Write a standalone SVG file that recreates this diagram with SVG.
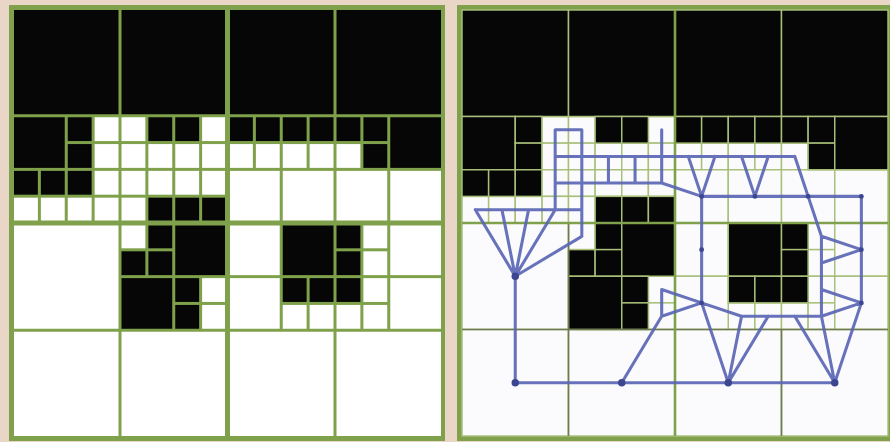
<svg xmlns="http://www.w3.org/2000/svg" width="890" height="442" viewBox="0 0 890 442">
<style>
.bg{fill:#ead6c7}
.frame{fill:#7fa14b}
.b{fill:#060606}
.w{fill:#ffffff}
.R rect{stroke:#a9bf7a;stroke-width:0.055}
.R .w{fill:#fbfbfd}
.q{stroke:#6d7a52;stroke-width:1.6}
.m{stroke:#7fa14b;stroke-width:2.6}
.edge{fill:none;stroke:#5a66b5;stroke-opacity:0.92;stroke-width:0.115;stroke-linecap:round;stroke-linejoin:round}
.dot{fill:#3c4690}
</style>
<rect class="bg" x="0" y="0" width="890" height="442"/>

<!-- Left panel: quadtree -->
<g id="left-panel">
<rect class="frame" x="9" y="5" width="436" height="436"/>
<g transform="translate(12.5,8.5) scale(26.875,26.8125)">
<rect class="b" x="0.056" y="0.056" width="3.888" height="3.888"/>
<rect class="b" x="4.056" y="0.056" width="3.888" height="3.888"/>
<rect class="b" x="8.056" y="0.056" width="3.888" height="3.888"/>
<rect class="b" x="12.056" y="0.056" width="3.888" height="3.888"/>
<rect class="b" x="0.056" y="4.056" width="1.888" height="1.888"/>
<rect class="b" x="2.056" y="4.056" width="0.888" height="0.888"/>
<rect class="b" x="2.056" y="5.056" width="0.888" height="0.888"/>
<rect class="b" x="0.056" y="6.056" width="0.888" height="0.888"/>
<rect class="b" x="1.056" y="6.056" width="0.888" height="0.888"/>
<rect class="b" x="2.056" y="6.056" width="0.888" height="0.888"/>
<rect class="b" x="5.056" y="4.056" width="0.888" height="0.888"/>
<rect class="b" x="6.056" y="4.056" width="0.888" height="0.888"/>
<rect class="b" x="5.056" y="7.056" width="0.888" height="0.888"/>
<rect class="b" x="6.056" y="7.056" width="0.888" height="0.888"/>
<rect class="b" x="7.056" y="7.056" width="0.888" height="0.888"/>
<rect class="b" x="8.056" y="4.056" width="0.888" height="0.888"/>
<rect class="b" x="9.056" y="4.056" width="0.888" height="0.888"/>
<rect class="b" x="10.056" y="4.056" width="0.888" height="0.888"/>
<rect class="b" x="11.056" y="4.056" width="0.888" height="0.888"/>
<rect class="b" x="12.056" y="4.056" width="0.888" height="0.888"/>
<rect class="b" x="13.056" y="4.056" width="0.888" height="0.888"/>
<rect class="b" x="13.056" y="5.056" width="0.888" height="0.888"/>
<rect class="b" x="14.056" y="4.056" width="1.888" height="1.888"/>
<rect class="b" x="5.056" y="8.056" width="0.888" height="0.888"/>
<rect class="b" x="4.056" y="9.056" width="0.888" height="0.888"/>
<rect class="b" x="5.056" y="9.056" width="0.888" height="0.888"/>
<rect class="b" x="6.056" y="8.056" width="1.888" height="1.888"/>
<rect class="b" x="4.056" y="10.056" width="1.888" height="1.888"/>
<rect class="b" x="6.056" y="10.056" width="0.888" height="0.888"/>
<rect class="b" x="6.056" y="11.056" width="0.888" height="0.888"/>
<rect class="b" x="10.056" y="8.056" width="1.888" height="1.888"/>
<rect class="b" x="10.056" y="10.056" width="0.888" height="0.888"/>
<rect class="b" x="11.056" y="10.056" width="0.888" height="0.888"/>
<rect class="b" x="12.056" y="8.056" width="0.888" height="0.888"/>
<rect class="b" x="12.056" y="9.056" width="0.888" height="0.888"/>
<rect class="b" x="12.056" y="10.056" width="0.888" height="0.888"/>

<rect class="w" x="3.056" y="4.056" width="0.888" height="0.888"/>
<rect class="w" x="3.056" y="5.056" width="0.888" height="0.888"/>
<rect class="w" x="3.056" y="6.056" width="0.888" height="0.888"/>
<rect class="w" x="3.056" y="7.056" width="0.888" height="0.888"/>
<rect class="w" x="0.056" y="7.056" width="0.888" height="0.888"/>
<rect class="w" x="1.056" y="7.056" width="0.888" height="0.888"/>
<rect class="w" x="2.056" y="7.056" width="0.888" height="0.888"/>
<rect class="w" x="4.056" y="4.056" width="0.888" height="0.888"/>
<rect class="w" x="4.056" y="5.056" width="0.888" height="0.888"/>
<rect class="w" x="4.056" y="6.056" width="0.888" height="0.888"/>
<rect class="w" x="4.056" y="7.056" width="0.888" height="0.888"/>
<rect class="w" x="5.056" y="5.056" width="0.888" height="0.888"/>
<rect class="w" x="5.056" y="6.056" width="0.888" height="0.888"/>
<rect class="w" x="6.056" y="5.056" width="0.888" height="0.888"/>
<rect class="w" x="6.056" y="6.056" width="0.888" height="0.888"/>
<rect class="w" x="7.056" y="4.056" width="0.888" height="0.888"/>
<rect class="w" x="7.056" y="5.056" width="0.888" height="0.888"/>
<rect class="w" x="7.056" y="6.056" width="0.888" height="0.888"/>
<rect class="w" x="8.056" y="5.056" width="0.888" height="0.888"/>
<rect class="w" x="9.056" y="5.056" width="0.888" height="0.888"/>
<rect class="w" x="10.056" y="5.056" width="0.888" height="0.888"/>
<rect class="w" x="11.056" y="5.056" width="0.888" height="0.888"/>
<rect class="w" x="12.056" y="5.056" width="0.888" height="0.888"/>
<rect class="w" x="4.056" y="8.056" width="0.888" height="0.888"/>
<rect class="w" x="7.056" y="10.056" width="0.888" height="0.888"/>
<rect class="w" x="7.056" y="11.056" width="0.888" height="0.888"/>
<rect class="w" x="10.056" y="11.056" width="0.888" height="0.888"/>
<rect class="w" x="11.056" y="11.056" width="0.888" height="0.888"/>
<rect class="w" x="13.056" y="8.056" width="0.888" height="0.888"/>
<rect class="w" x="13.056" y="9.056" width="0.888" height="0.888"/>
<rect class="w" x="13.056" y="10.056" width="0.888" height="0.888"/>
<rect class="w" x="12.056" y="11.056" width="0.888" height="0.888"/>
<rect class="w" x="13.056" y="11.056" width="0.888" height="0.888"/>
<rect class="w" x="8.056" y="6.056" width="1.888" height="1.888"/>
<rect class="w" x="10.056" y="6.056" width="1.888" height="1.888"/>
<rect class="w" x="12.056" y="6.056" width="1.888" height="1.888"/>
<rect class="w" x="14.056" y="6.056" width="1.888" height="1.888"/>
<rect class="w" x="8.056" y="8.056" width="1.888" height="1.888"/>
<rect class="w" x="8.056" y="10.056" width="1.888" height="1.888"/>
<rect class="w" x="14.056" y="8.056" width="1.888" height="1.888"/>
<rect class="w" x="14.056" y="10.056" width="1.888" height="1.888"/>
<rect class="w" x="0.056" y="8.056" width="3.888" height="3.888"/>
<rect class="w" x="0.056" y="12.056" width="3.888" height="3.888"/>
<rect class="w" x="4.056" y="12.056" width="3.888" height="3.888"/>
<rect class="w" x="8.056" y="12.056" width="3.888" height="3.888"/>
<rect class="w" x="12.056" y="12.056" width="3.888" height="3.888"/>
</g>
<line class="m" x1="227.5" y1="8" x2="227.5" y2="438" style="stroke-width:5"/>
<line class="m" x1="12" y1="223" x2="442" y2="223" style="stroke-width:5"/>
</g>

<!-- Right panel: quadtree with region adjacency graph -->
<g id="right-panel">
<rect class="frame" x="457" y="5" width="433" height="436"/>
<g class="R" transform="translate(462,10) scale(26.625)">
<rect class="w" x="0" y="0" width="16" height="16" style="stroke:none"/>
<rect class="w" x="3" y="4" width="1" height="1"/>
<rect class="w" x="3" y="5" width="1" height="1"/>
<rect class="w" x="3" y="6" width="1" height="1"/>
<rect class="w" x="3" y="7" width="1" height="1"/>
<rect class="w" x="0" y="7" width="1" height="1"/>
<rect class="w" x="1" y="7" width="1" height="1"/>
<rect class="w" x="2" y="7" width="1" height="1"/>
<rect class="w" x="4" y="4" width="1" height="1"/>
<rect class="w" x="4" y="5" width="1" height="1"/>
<rect class="w" x="4" y="6" width="1" height="1"/>
<rect class="w" x="4" y="7" width="1" height="1"/>
<rect class="w" x="5" y="5" width="1" height="1"/>
<rect class="w" x="5" y="6" width="1" height="1"/>
<rect class="w" x="6" y="5" width="1" height="1"/>
<rect class="w" x="6" y="6" width="1" height="1"/>
<rect class="w" x="7" y="4" width="1" height="1"/>
<rect class="w" x="7" y="5" width="1" height="1"/>
<rect class="w" x="7" y="6" width="1" height="1"/>
<rect class="w" x="8" y="5" width="1" height="1"/>
<rect class="w" x="9" y="5" width="1" height="1"/>
<rect class="w" x="10" y="5" width="1" height="1"/>
<rect class="w" x="11" y="5" width="1" height="1"/>
<rect class="w" x="12" y="5" width="1" height="1"/>
<rect class="w" x="4" y="8" width="1" height="1"/>
<rect class="w" x="7" y="10" width="1" height="1"/>
<rect class="w" x="7" y="11" width="1" height="1"/>
<rect class="w" x="10" y="11" width="1" height="1"/>
<rect class="w" x="11" y="11" width="1" height="1"/>
<rect class="w" x="13" y="8" width="1" height="1"/>
<rect class="w" x="13" y="9" width="1" height="1"/>
<rect class="w" x="13" y="10" width="1" height="1"/>
<rect class="w" x="12" y="11" width="1" height="1"/>
<rect class="w" x="13" y="11" width="1" height="1"/>
<rect class="w" x="8" y="6" width="2" height="2"/>
<rect class="w" x="10" y="6" width="2" height="2"/>
<rect class="w" x="12" y="6" width="2" height="2"/>
<rect class="w" x="14" y="6" width="2" height="2"/>
<rect class="w" x="8" y="8" width="2" height="2"/>
<rect class="w" x="8" y="10" width="2" height="2"/>
<rect class="w" x="14" y="8" width="2" height="2"/>
<rect class="w" x="14" y="10" width="2" height="2"/>
<rect class="w" x="0" y="8" width="4" height="4"/>
<rect class="w" x="0" y="12" width="4" height="4"/>
<rect class="w" x="4" y="12" width="4" height="4"/>
<rect class="w" x="8" y="12" width="4" height="4"/>
<rect class="w" x="12" y="12" width="4" height="4"/>

<rect class="b" x="0" y="0" width="4" height="4"/>
<rect class="b" x="4" y="0" width="4" height="4"/>
<rect class="b" x="8" y="0" width="4" height="4"/>
<rect class="b" x="12" y="0" width="4" height="4"/>
<rect class="b" x="0" y="4" width="2" height="2"/>
<rect class="b" x="2" y="4" width="1" height="1"/>
<rect class="b" x="2" y="5" width="1" height="1"/>
<rect class="b" x="0" y="6" width="1" height="1"/>
<rect class="b" x="1" y="6" width="1" height="1"/>
<rect class="b" x="2" y="6" width="1" height="1"/>
<rect class="b" x="5" y="4" width="1" height="1"/>
<rect class="b" x="6" y="4" width="1" height="1"/>
<rect class="b" x="5" y="7" width="1" height="1"/>
<rect class="b" x="6" y="7" width="1" height="1"/>
<rect class="b" x="7" y="7" width="1" height="1"/>
<rect class="b" x="8" y="4" width="1" height="1"/>
<rect class="b" x="9" y="4" width="1" height="1"/>
<rect class="b" x="10" y="4" width="1" height="1"/>
<rect class="b" x="11" y="4" width="1" height="1"/>
<rect class="b" x="12" y="4" width="1" height="1"/>
<rect class="b" x="13" y="4" width="1" height="1"/>
<rect class="b" x="13" y="5" width="1" height="1"/>
<rect class="b" x="14" y="4" width="2" height="2"/>
<rect class="b" x="5" y="8" width="1" height="1"/>
<rect class="b" x="4" y="9" width="1" height="1"/>
<rect class="b" x="5" y="9" width="1" height="1"/>
<rect class="b" x="6" y="8" width="2" height="2"/>
<rect class="b" x="4" y="10" width="2" height="2"/>
<rect class="b" x="6" y="10" width="1" height="1"/>
<rect class="b" x="6" y="11" width="1" height="1"/>
<rect class="b" x="10" y="8" width="2" height="2"/>
<rect class="b" x="10" y="10" width="1" height="1"/>
<rect class="b" x="11" y="10" width="1" height="1"/>
<rect class="b" x="12" y="8" width="1" height="1"/>
<rect class="b" x="12" y="9" width="1" height="1"/>
<rect class="b" x="12" y="10" width="1" height="1"/>
</g>
<line class="q" x1="568.5" y1="223" x2="568.5" y2="436"/>
<line class="q" x1="781.5" y1="329.5" x2="781.5" y2="436"/>
<line class="q" x1="462" y1="329.5" x2="888" y2="329.5"/>
<line class="m" x1="675" y1="10" x2="675" y2="436"/>
<line class="m" x1="462" y1="223" x2="888" y2="223"/>
</g>

<!-- Connectors: adjacency graph edges -->
<g id="connectors" transform="translate(462,10) scale(26.625)">
<path class="edge" d="M3.5 4.5H4.5 M3.5 4.5V7.5 M4.5 4.5V8.5 M7.5 4.5V6.5 M3.5 5.5H12.5 M5.5 5.5V6.5 M6.5 5.5V6.5 M3.5 6.5H7.5L9 7 M0.5 7.5H4.5 M8.5 5.5L9 7L9.5 5.5 M10.5 5.5L11 7L11.5 5.5 M12.5 5.5L13 7L13.5 8.5 M9 7H15V11L14 14 M9 7V11L10 14 M0.5 7.5L2 10 M1.5 7.5L2 10 M2.5 7.5L2 10 M3.5 7.5L2 10 M4.5 8.5L2 10V14H14 M7.5 10.5V11.5L6 14 M7.5 10.5L9 11L7.5 11.5 M9 11L10.5 11.5H13.5 M10.5 11.5L10 14L11.5 11.5 M13.5 8.5V11.5 M13.5 8.5L15 9L13.5 9.5 M13.5 10.5L15 11L13.5 11.5 M12.5 11.5L14 14L13.5 11.5"/>
</g>

<!-- Graph nodes -->
<g transform="translate(462,10) scale(26.625)">
<g id="node-W1"><circle class="dot" cx="2" cy="10" r="0.14"/></g>
<g id="node-W2"><circle class="dot" cx="2" cy="14" r="0.14"/></g>
<g id="node-W3"><circle class="dot" cx="6" cy="14" r="0.14"/></g>
<g id="node-W4"><circle class="dot" cx="10" cy="14" r="0.14"/></g>
<g id="node-W5"><circle class="dot" cx="14" cy="14" r="0.14"/></g>
<g id="node-A"><circle class="dot" cx="9" cy="7" r="0.09"/></g>
<g id="node-B"><circle class="dot" cx="11" cy="7" r="0.09"/></g>
<g id="node-C"><circle class="dot" cx="13" cy="7" r="0.09"/></g>
<g id="node-D"><circle class="dot" cx="15" cy="7" r="0.09"/></g>
<g id="node-E"><circle class="dot" cx="9" cy="9" r="0.09"/></g>
<g id="node-F"><circle class="dot" cx="9" cy="11" r="0.09"/></g>
<g id="node-G"><circle class="dot" cx="15" cy="9" r="0.09"/></g>
<g id="node-H"><circle class="dot" cx="15" cy="11" r="0.09"/></g>
</g>
</svg>
